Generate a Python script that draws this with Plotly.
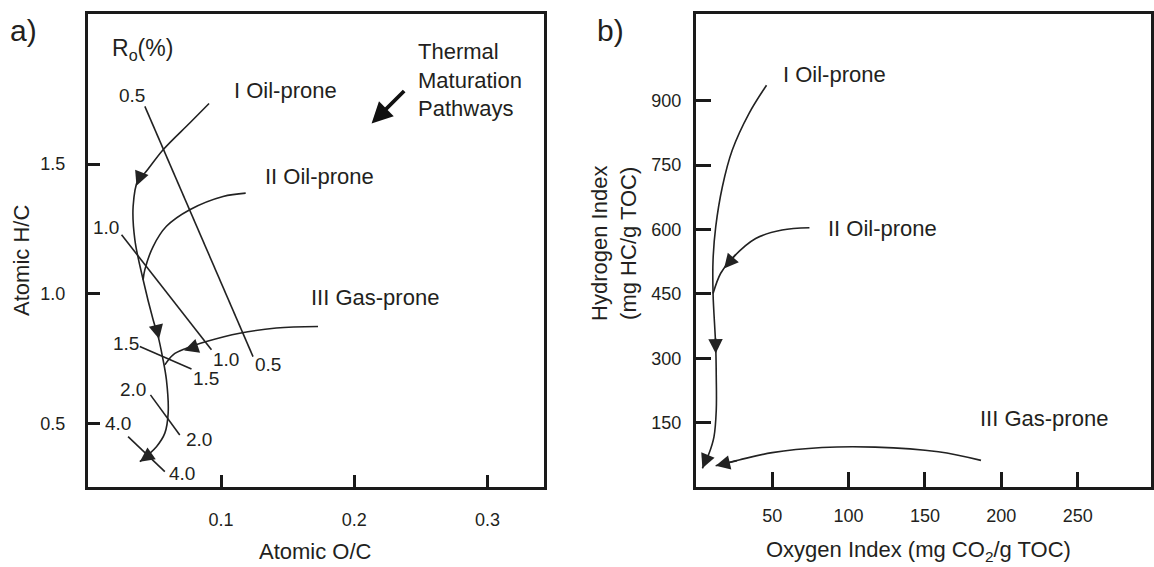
import plotly.graph_objects as go

# ---------------- Panel a: Van Krevelen diagram (atomic H/C vs O/C) ----------------
# Kerogen maturation pathways
type1_oc = [0.091, 0.0765, 0.0565, 0.0428, 0.0378, 0.034, 0.0353, 0.0415, 0.049, 0.0528, 0.056, 0.059, 0.0603, 0.0578, 0.0515, 0.039]
type1_hc = [1.733, 1.658, 1.555, 1.465, 1.440, 1.337, 1.208, 1.054, 0.900, 0.835, 0.758, 0.668, 0.540, 0.463, 0.411, 0.353]
type2_oc = [0.1185, 0.1015, 0.0765, 0.059, 0.049, 0.0428, 0.0415]
type2_hc = [1.388, 1.375, 1.324, 1.260, 1.182, 1.093, 1.054]
type3_oc = [0.1728, 0.1415, 0.114, 0.089, 0.074, 0.064, 0.0578]
type3_hc = [0.874, 0.868, 0.848, 0.816, 0.790, 0.765, 0.726]

# Vitrinite reflectance (Ro %) iso-lines: start/end points and labels
ro_labels = ["0.5", "1.0", "1.5", "2.0", "4.0"]
ro_oc_start = [0.0428, 0.0253, 0.039, 0.047, 0.0302]
ro_hc_start = [1.722, 1.2275, 0.797, 0.6105, 0.4497]
ro_oc_end = [0.124, 0.0928, 0.0778, 0.069, 0.0578]
ro_hc_end = [0.758, 0.784, 0.710, 0.456, 0.3147]
ro_lab_top_oc = [0.0335, 0.0134, 0.0283, 0.034, 0.0223]
ro_lab_top_hc = [1.7636, 1.257, 0.810, 0.6325, 0.4987]
ro_lab_bot_oc = [0.1353, 0.104, 0.0885, 0.0835, 0.071]
ro_lab_bot_hc = [0.726, 0.748, 0.675, 0.437, 0.3085]

# Arrowheads along the pathways (tip point, point behind it on the path)
a_arrow_head_oc = [0.0365, 0.0535, 0.039, 0.0723]
a_arrow_head_hc = [1.4165, 0.8253, 0.353, 0.781]
a_arrow_tail_oc = [0.0395, 0.0515, 0.0465, 0.083]
a_arrow_tail_hc = [1.455, 0.870, 0.380, 0.800]

# "Thermal Maturation Pathways" pointer (tail -> tip)
tmp_arrow_oc = [0.2386, 0.213]
tmp_arrow_hc = [1.787, 1.656]

a_xticks = [0.1, 0.2, 0.3]
a_xticklabels = ["0.1", "0.2", "0.3"]
a_yticks = [0.5, 1.0, 1.5]
a_yticklabels = ["0.5", "1.0", "1.5"]

# ---------------- Panel b: Hydrogen Index vs Oxygen Index ----------------
b_type1_oi = [46.3, 34.8, 23.9, 17.4, 13.05, 11.3, 11.3, 13.05, 13.4, 13.4, 11.9, 8.7, 4.3]
b_type1_hi = [936, 870, 785, 699.5, 606, 529, 451, 327, 257, 179, 117, 78.5, 43.5]
b_type2_oi = [74.4, 56.5, 39.2, 22.8, 16.3, 11.3]
b_type2_hi = [604, 598.6, 579, 529, 498, 451]
b_type3_oi = [186.7, 158.8, 117.5, 82.6, 50.0, 28.3, 13.0]
b_type3_hi = [62, 82, 93, 92, 80, 63, 49.6]

b_arrow_head_oi = [18.5, 13.05, 4.3, 13.0]
b_arrow_head_hi = [509, 311, 43.5, 49.6]
b_arrow_tail_oi = [27.0, 12.9, 8.0, 28.0]
b_arrow_tail_hi = [545, 350, 75, 62]

b_xticks = [50, 100, 150, 200, 250]
b_yticks = [150, 300, 450, 600, 750, 900]

INK = "#231f20"
LINE = "#222222"
FONT = "Liberation Sans, Arial, sans-serif"

fig = go.Figure()

line_style = dict(color=LINE, width=1.6)


def curve(xs, ys, xa, ya):
    fig.add_trace(go.Scatter(x=xs, y=ys, mode="lines",
                             line=dict(shape="spline", smoothing=1.0, **line_style),
                             xaxis=xa, yaxis=ya, showlegend=False, hoverinfo="skip"))


# Panel a curves
for xs, ys in [(type1_oc, type1_hc), (type2_oc, type2_hc), (type3_oc, type3_hc)]:
    curve(xs, ys, "x", "y")
for i in range(len(ro_labels)):
    fig.add_trace(go.Scatter(x=[ro_oc_start[i], ro_oc_end[i]], y=[ro_hc_start[i], ro_hc_end[i]],
                             mode="lines", line=line_style, xaxis="x", yaxis="y",
                             showlegend=False, hoverinfo="skip"))

# Panel b curves
for xs, ys in [(b_type1_oi, b_type1_hi), (b_type2_oi, b_type2_hi), (b_type3_oi, b_type3_hi)]:
    curve(xs, ys, "x2", "y2")

annotations = []


def text(x, y, s, xref, yref, size=22, xanchor="left", yanchor="middle", align="left", **kw):
    annotations.append(dict(x=x, y=y, text=s, xref=xref, yref=yref, showarrow=False,
                            xanchor=xanchor, yanchor=yanchor, align=align,
                            font=dict(family=FONT, size=size, color=INK), **kw))


def arrow(hx, hy, tx, ty, xref, yref, width=1.6, size=1.8, head=2, color=LINE):
    annotations.append(dict(x=hx, y=hy, ax=tx, ay=ty, xref=xref, yref=yref,
                            axref=xref, ayref=yref, showarrow=True, arrowhead=head,
                            arrowsize=size, arrowwidth=width, arrowcolor=color,
                            standoff=0, startstandoff=0, text=""))


# Ro labels
for i, lab in enumerate(ro_labels):
    text(ro_lab_top_oc[i], ro_lab_top_hc[i], lab, "x", "y", size=19, xanchor="center")
    text(ro_lab_bot_oc[i], ro_lab_bot_hc[i], lab, "x", "y", size=19, xanchor="center")

# Panel a labels and arrows
text(0.0165, 1.941, "R<sub>o</sub>(%)", "x", "y", size=23)
text(0.1085, 1.783, "I Oil-prone", "x", "y")
text(0.1313, 1.451, "II Oil-prone", "x", "y")
text(0.1658, 0.985, "III Gas-prone", "x", "y")
text(0.2462, 1.825, "Thermal<br>Maturation<br>Pathways", "x", "y")
arrow(tmp_arrow_oc[1], tmp_arrow_hc[1], tmp_arrow_oc[0], tmp_arrow_hc[0], "x", "y",
      width=3.8, size=1.1, head=2, color="#111111")
for i in range(len(a_arrow_head_oc)):
    arrow(a_arrow_head_oc[i], a_arrow_head_hc[i], a_arrow_tail_oc[i], a_arrow_tail_hc[i], "x", "y")

# Panel b labels and arrows
text(55.5, 960, "I Oil-prone", "x2", "y2")
text(85.0, 602.6, "II Oil-prone", "x2", "y2")
text(184.8, 160.7, "III Gas-prone", "x2", "y2")
for i in range(len(b_arrow_head_oi)):
    arrow(b_arrow_head_oi[i], b_arrow_head_hi[i], b_arrow_tail_oi[i], b_arrow_tail_hi[i], "x2", "y2")

# Panel letters and axis titles (paper coordinates)
W, H = 1154, 567


def px(x):
    return x / W


def py(y):
    return 1 - y / H


text(px(24), py(30), "a)", "paper", "paper", size=30, xanchor="center")
text(px(612), py(30), "b)", "paper", "paper", size=30, xanchor="center")
text(px(316), py(551), "Atomic O/C", "paper", "paper", size=22, xanchor="center")
text(px(21), py(260), "Atomic H/C", "paper", "paper", size=22, xanchor="center", textangle=-90)
text(px(920), py(551), "Oxygen Index (mg CO<sub>2</sub>/g TOC)", "paper", "paper", size=22, xanchor="center")
text(px(615), py(243), "Hydrogen Index<br>(mg HC/g TOC)", "paper", "paper", size=22,
     xanchor="center", align="center", textangle=-90)

axis_common = dict(showline=True, linecolor="#1a1a1a", linewidth=3, mirror=True,
                   ticks="inside", tickcolor="#1a1a1a", tickwidth=2.5,
                   showgrid=False, zeroline=False,
                   tickfont=dict(family=FONT, size=18, color=INK))

fig.update_layout(
    width=W, height=H, autosize=False,
    margin=dict(l=0, r=0, t=0, b=0),
    paper_bgcolor="white", plot_bgcolor="white",
    showlegend=False,
    xaxis=dict(domain=[px(88), px(545)], range=[0, 0.3425], anchor="y",
               tickvals=a_xticks, ticktext=a_xticklabels, ticklen=12, ticklabelstandoff=14, **axis_common),
    yaxis=dict(domain=[py(487), py(14)], range=[0.2555, 2.078], anchor="x",
               tickvals=a_yticks, ticktext=a_yticklabels, ticklen=12, ticklabelstandoff=16, **axis_common),
    xaxis2=dict(domain=[px(697), px(1153)], range=[0, 298], anchor="y2",
                tickvals=b_xticks, ticklen=15, ticklabelstandoff=10, **axis_common),
    yaxis2=dict(domain=[py(487), py(14)], range=[0, 1102], anchor="x2",
                tickvals=b_yticks, ticklen=15, ticklabelstandoff=8, **axis_common),
    annotations=annotations,
)

fig.write_html("out.html")
